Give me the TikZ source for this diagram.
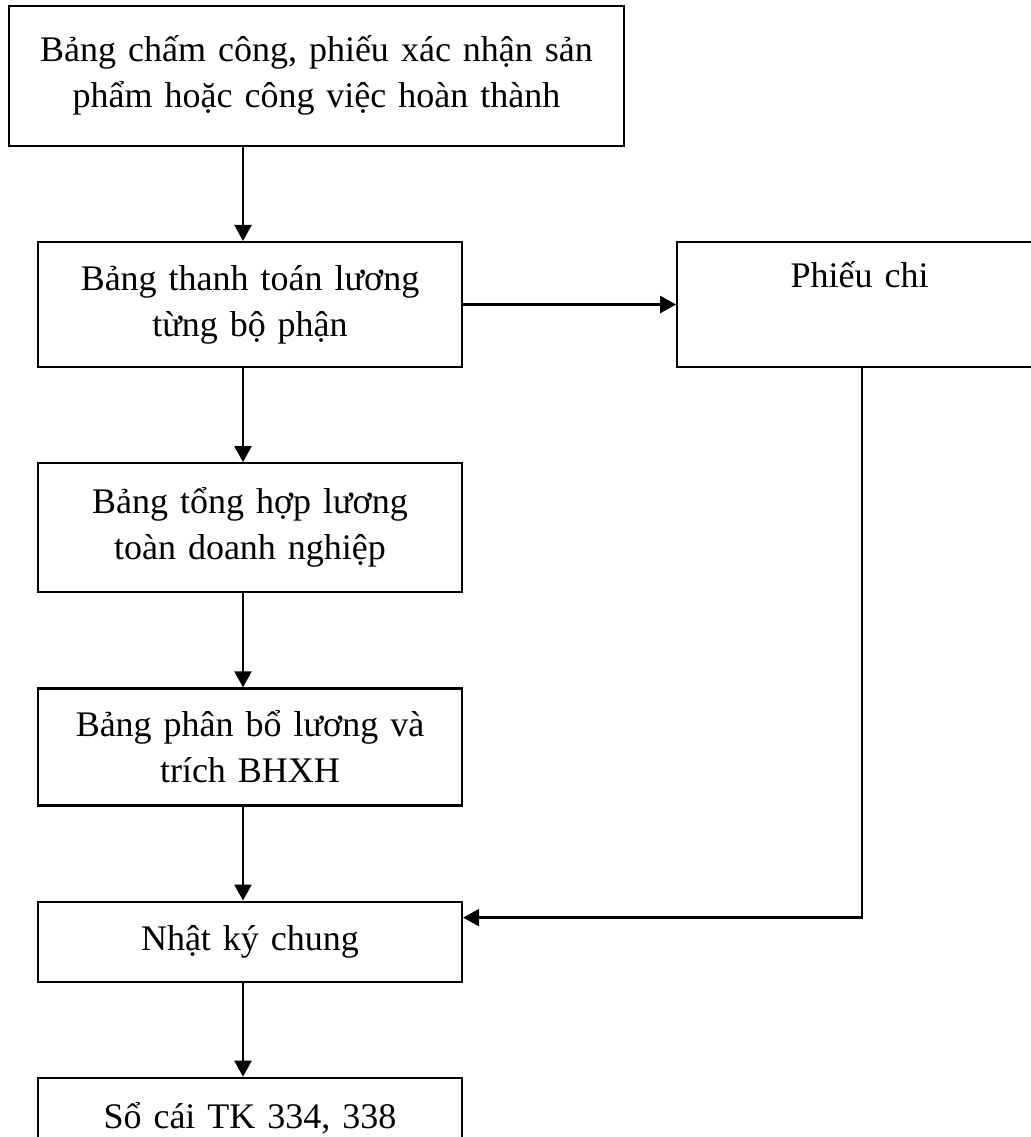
\documentclass[tikz,border=0pt]{standalone}
\usepackage{fontspec}
\setmainfont{Liberation Serif}[WordSpace=0.7]
\usepackage{tikz}
\usetikzlibrary{positioning,arrows.meta}

\begin{document}
\begin{tikzpicture}[
  box/.style={draw=black, line width=1.1pt, align=center, inner xsep=0pt, inner ysep=2pt,
              text width=212pt, font=\fontsize{18pt}{23pt}\selectfont},
  arr/.style={-{Triangle[length=8pt,width=8.5pt]}, line width=1.2pt}]
\useasboundingbox (0,0) rectangle (515.5pt,-568.5pt);
\node[box, minimum height=62.5pt] (tt) at (125pt,-152.25pt) {Bảng thanh toán lương\\từng bộ phận};
\node[box, text width=307.5pt, minimum height=70pt, above=47pt of tt, xshift=33.25pt] (cc)
  {Bảng chấm công, phiếu xác nhận sản\\phẩm hoặc công việc hoàn thành};
\node[box, text width=182.5pt, minimum height=62.5pt, right=106.5pt of tt] (pc) {Phiếu chi\\\strut};
\node[box, minimum height=64.5pt, below=47pt of tt] (th) {Bảng tổng hợp lương\\toàn doanh nghiệp};
\node[box, minimum height=58.5pt, below=47pt of th] (pb) {Bảng phân bổ lương và\\trích BHXH};
\node[box, minimum height=40pt, below=47pt of pb] (nk) {Nhật ký chung};
\node[box, minimum height=40pt, below=47pt of nk] (sc) {Sổ cái TK 334, 338};
% vertical chain runs a little left of the box centres
\draw[arr] ([xshift=-3.5pt]tt.north |- cc.south) -- ([xshift=-3.5pt]tt.north);
\draw[arr] (tt) -- (pc);
\draw[arr] ([xshift=-3.5pt]tt.south) -- ([xshift=-3.5pt]th.north);
\draw[arr] ([xshift=-3.5pt]th.south) -- ([xshift=-3.5pt]pb.north);
\draw[arr] ([xshift=-3.5pt]pb.south) -- ([xshift=-3.5pt]nk.north);
\draw[arr] ([xshift=-3.5pt]nk.south) -- ([xshift=-3.5pt]sc.north);
\draw[arr] ([xshift=1.25pt]pc.south) |- ([yshift=12pt]nk.east);
\end{tikzpicture}
\end{document}
